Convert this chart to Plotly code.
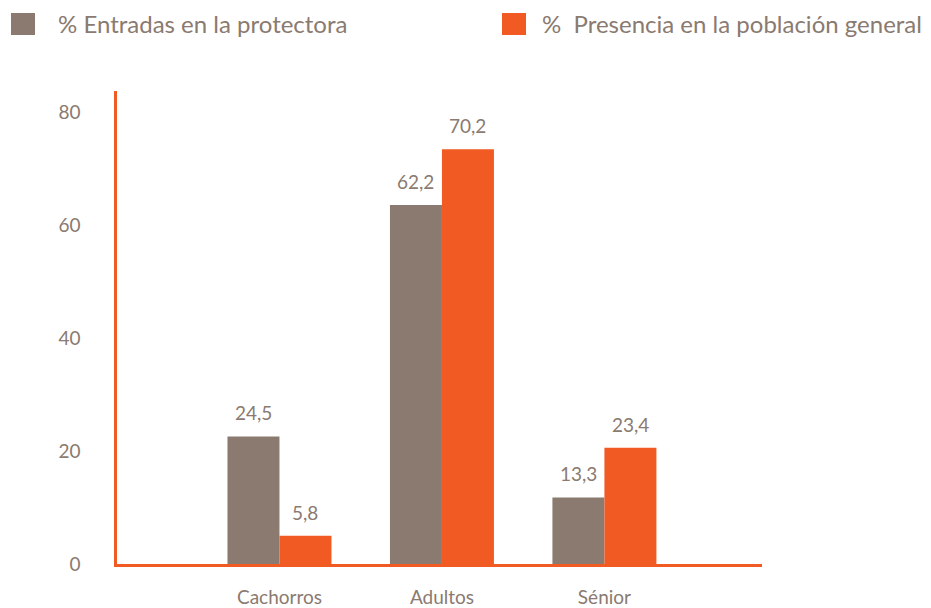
import plotly.graph_objects as go

categories = ["Cachorros", "Adultos", "Sénior"]
series_names = ["% Entradas en la protectora", "%  Presencia en la población general"]
entradas_heights = [22.6, 63.6, 11.8]
presencia_heights = [5.0, 73.5, 20.6]
entradas_labels = ["24,5", "62,2", "13,3"]
presencia_labels = ["5,8", "70,2", "23,4"]
y_ticks = [0, 20, 40, 60, 80]

GRAY = "#8a7a70"
ORANGE = "#f15a22"
TEXT = "#8a7a70"
FONT = "Lato"

fig = go.Figure()
fig.add_trace(go.Bar(x=categories, y=entradas_heights, name=series_names[0],
                     marker=dict(color=GRAY, line=dict(width=0)), showlegend=False))
fig.add_trace(go.Bar(x=categories, y=presencia_heights, name=series_names[1],
                     marker=dict(color=ORANGE, line=dict(width=0)), showlegend=False))

annotations = []
for i, c in enumerate(categories):
    for vals, labs, shift in ((entradas_heights, entradas_labels, -26),
                              (presencia_heights, presencia_labels, 26)):
        annotations.append(dict(x=c, y=vals[i], text=labs[i], xref="x", yref="y",
                                showarrow=False, yanchor="bottom", xshift=shift, yshift=10,
                                font=dict(family=FONT, size=19, color=TEXT)))

# manual legend
legend_items = [(series_names[0], GRAY, 11, 56), (series_names[1], ORANGE, 502, 540)]
shapes = []
W, H = 931, 608
ml, mr, mt, mb = 117, 169, 91, 44
pw, ph = W - ml - mr, H - mt - mb
def px_to_paper_x(px):
    return (px - ml) / pw
def px_to_paper_y(py):
    return (H - mb - py) / ph
for name, col, sx, tx in legend_items:
    shapes.append(dict(type="rect", xref="paper", yref="paper",
                       x0=px_to_paper_x(sx), x1=px_to_paper_x(sx + 24),
                       y0=px_to_paper_y(35), y1=px_to_paper_y(13),
                       fillcolor=col, line=dict(width=0)))
    annotations.append(dict(x=px_to_paper_x(tx), y=px_to_paper_y(24), xref="paper", yref="paper",
                            text=name, showarrow=False, xanchor="left", yanchor="middle",
                            font=dict(family=FONT, size=24, color=TEXT)))

fig.update_layout(
    width=W, height=H, autosize=False,
    margin=dict(l=ml, r=mr, t=mt, b=mb),
    paper_bgcolor="white", plot_bgcolor="white",
    barmode="group", bargap=0.36, bargroupgap=0,
    showlegend=False,
    annotations=annotations, shapes=shapes,
    font=dict(family=FONT, color=TEXT, size=19),
)
fig.update_xaxes(type="category", range=[-1, 2.97], showline=True, linecolor=ORANGE, linewidth=2.5,
                 showgrid=False, ticks="", ticklabelstandoff=14, automargin=False,
                 tickfont=dict(family=FONT, size=19, color=TEXT))
fig.update_yaxes(range=[0, 83.8], tickvals=y_ticks, showline=True, linecolor=ORANGE, linewidth=2.5,
                 showgrid=False, zeroline=False, ticks="", ticklabelstandoff=30, automargin=False,
                 tickfont=dict(family=FONT, size=19, color=TEXT))

fig.write_html("out.html", config={"responsive": False, "displayModeBar": False},
               post_script="document.body.style.margin='0';document.body.style.overflow='hidden';")
